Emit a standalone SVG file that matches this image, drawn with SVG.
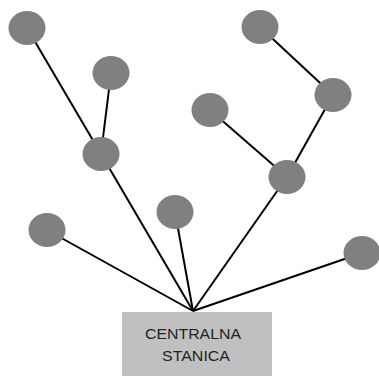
<svg xmlns="http://www.w3.org/2000/svg" width="379" height="376" viewBox="0 0 379 376">
<style>
.n{fill:#808080}
.c line{stroke:#000;stroke-width:2}
.t{font-family:"Liberation Sans",Arial,sans-serif;font-size:14px;fill:#222;text-anchor:middle}
</style>
<rect width="379" height="376" fill="#fff"/>
<g class="c" id="connectors">
<line x1="27" y1="28" x2="101" y2="154"/>
<line x1="111" y1="73" x2="101" y2="154"/>
<line x1="101" y1="154" x2="193" y2="311"/>
<line x1="260" y1="27" x2="333" y2="95"/>
<line x1="333" y1="95" x2="287" y2="177"/>
<line x1="210" y1="110" x2="287" y2="177"/>
<line x1="287" y1="177" x2="193" y2="311"/>
<line x1="47" y1="230" x2="193" y2="311"/>
<line x1="175" y1="212" x2="193" y2="311"/>
<line x1="362" y1="253" x2="193" y2="311"/>
</g>
<g id="n1"><ellipse class="n" cx="27" cy="28" rx="18.5" ry="17"/></g>
<g id="n2"><ellipse class="n" cx="111" cy="73" rx="18.5" ry="17"/></g>
<g id="n3"><ellipse class="n" cx="101" cy="154" rx="18.5" ry="17"/></g>
<g id="n4"><ellipse class="n" cx="260" cy="27" rx="18.5" ry="17"/></g>
<g id="n5"><ellipse class="n" cx="333" cy="95" rx="18.5" ry="17"/></g>
<g id="n6"><ellipse class="n" cx="210" cy="110" rx="18.5" ry="17"/></g>
<g id="n7"><ellipse class="n" cx="287" cy="177" rx="18.5" ry="17"/></g>
<g id="n8"><ellipse class="n" cx="47" cy="230" rx="18.5" ry="17"/></g>
<g id="n9"><ellipse class="n" cx="175" cy="212" rx="18.5" ry="17"/></g>
<g id="n10"><ellipse class="n" cx="362" cy="253" rx="18.5" ry="17"/></g>
<g id="station">
<rect x="122" y="312" width="150" height="64" fill="#c0c0c0"/>
<text class="t" x="193" y="339" textLength="96" lengthAdjust="spacingAndGlyphs">CENTRALNA</text>
<text class="t" x="196" y="361" textLength="68" lengthAdjust="spacingAndGlyphs">STANICA</text>
</g>
</svg>
